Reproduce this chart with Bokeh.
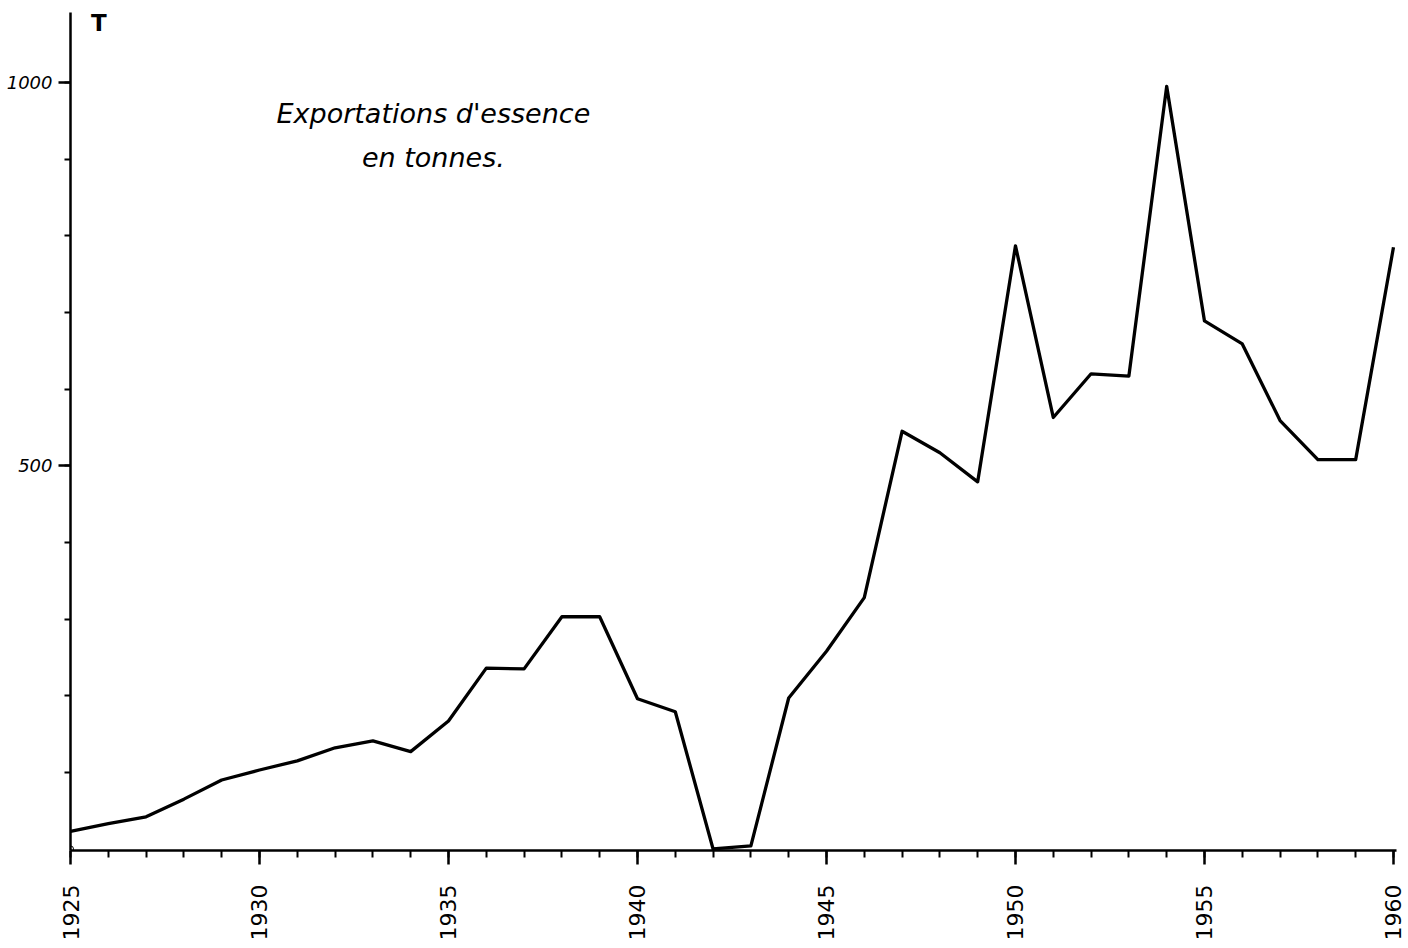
import numpy as np
from bokeh.plotting import figure
from bokeh.models import Range1d, SingleIntervalTicker, FixedTicker, Label
from bokeh.embed import file_html
from bokeh.resources import INLINE

years = list(range(1925, 1961))
tonnes = [23, 33, 42, 65, 90, 103, 115, 132, 141, 127,
          167, 236, 235, 303, 303, 196, 179, 0, 4, 197,
          258, 328, 545, 517, 479, 787, 563, 620, 617, 995,
          689, 659, 559, 508, 508, 785]
y_major = [500, 1000]
y_minor = list(range(100, 1100, 100))
title_lines = ["Exportations d'essence", "en tonnes."]

p = figure(width=1406, height=946, output_backend="svg", toolbar_location=None,
           x_range=Range1d(1925, 1960.08), y_range=Range1d(-2, 1091.4),
           min_border_left=70, min_border_right=10, min_border_top=12, min_border_bottom=96)
p.outline_line_color = None
p.grid.grid_line_color = None
p.background_fill_color = "white"
p.border_fill_color = "white"

# x axis
xa = p.xaxis[0]
xa.ticker = SingleIntervalTicker(interval=5, num_minor_ticks=5)
xa.axis_line_width = 2.5
xa.axis_line_color = "black"
xa.major_tick_in = 0
xa.major_tick_out = 14
xa.minor_tick_in = 0
xa.minor_tick_out = 7
xa.major_tick_line_width = 2.5
xa.minor_tick_line_width = 2
xa.major_tick_line_color = "black"
xa.minor_tick_line_color = "black"
xa.major_label_orientation = np.pi / 2
xa.major_label_standoff = 20
xa.major_label_text_font = "DejaVu Sans"
xa.major_label_text_font_size = "22px"
xa.major_label_text_color = "black"

# y axis
ya = p.yaxis[0]
ya.ticker = FixedTicker(ticks=y_major, minor_ticks=y_minor)
ya.axis_line_width = 2.5
ya.axis_line_color = "black"
ya.major_tick_in = 0
ya.major_tick_out = 12
ya.minor_tick_in = 0
ya.minor_tick_out = 6
ya.major_tick_line_width = 2.5
ya.minor_tick_line_width = 2
ya.major_tick_line_color = "black"
ya.minor_tick_line_color = "black"
ya.major_label_standoff = 6
ya.major_label_text_font = "DejaVu Sans"
ya.major_label_text_font_style = "italic"
ya.major_label_text_font_size = "18px"
ya.major_label_text_color = "black"

p.line(years, tonnes, line_color="black", line_width=3.3, line_join="round")
p.scatter([years[0]], [0], size=6, fill_color="white", line_color="black", line_width=1)

p.add_layout(Label(x=1934.6, y=959, text=title_lines[0], text_align="center",
                   text_baseline="middle", text_font="DejaVu Sans", text_font_style="italic",
                   text_font_size="27px", text_color="black"))
p.add_layout(Label(x=1934.6, y=902, text=title_lines[1], text_align="center",
                   text_baseline="middle", text_font="DejaVu Sans", text_font_style="italic",
                   text_font_size="27px", text_color="black"))
p.add_layout(Label(x=1925.75, y=1078, text="T", text_align="center",
                   text_baseline="middle", text_font="DejaVu Sans", text_font_style="bold",
                   text_font_size="23px", text_color="black"))

open("out.html", "w").write(file_html(p, INLINE))
